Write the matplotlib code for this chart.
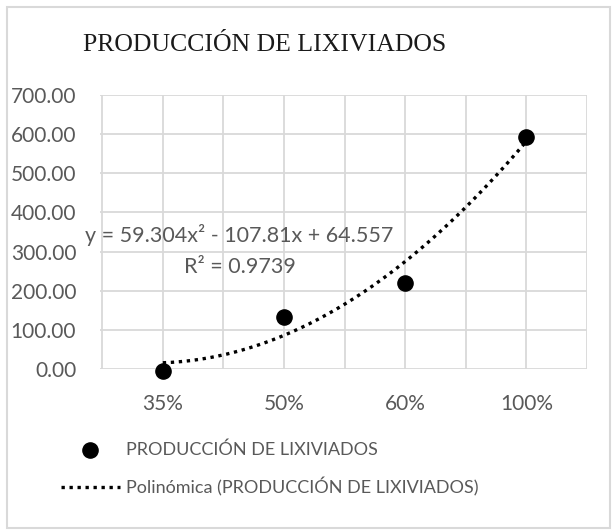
import numpy as np
import matplotlib
matplotlib.use("Agg")
import matplotlib.pyplot as plt
from matplotlib.patches import Rectangle

# data
categories = ["35%", "50%", "60%", "100%"]
produccion = [-4.0, 133.0, 221.0, 593.0]
# Excel trendline coefficients (x = 1..n)
coef = [59.304, -107.81, 64.557]
r2 = 0.9739
yticks = [0, 100, 200, 300, 400, 500, 600, 700]

plt.rcParams['font.family'] = ['Lato', 'DejaVu Sans']
gray = "#595959"

fig = plt.figure(figsize=(6.16, 5.31), dpi=100)
ax = fig.add_axes([0.162, 0.305, 0.791, 0.516])

x = np.arange(1, len(categories) + 1)
xs = np.linspace(1, len(categories), 200)
ys = np.polyval(coef, xs)

ax.plot(xs, ys, color="black", linestyle=(0, (1, 1.4)), linewidth=2.4,
        label="Polinómica (PRODUCCIÓN DE LIXIVIADOS)", zorder=3)
ax.scatter(x, produccion, s=120, color="black", zorder=4, clip_on=False,
           label="PRODUCCIÓN DE LIXIVIADOS")

ax.set_xlim(0.48, 4.5)
ax.set_ylim(0, 700)
ax.set_yticks(yticks)
ax.set_yticklabels([f"{v:.2f}" for v in yticks])
ax.set_xticks(x)
ax.set_xticklabels(categories)
ax.set_xticks(np.arange(0.5, 4.6, 0.5), minor=True)
ax.grid(True, which="both", color="#d9d9d9", linewidth=1.3)
ax.set_axisbelow(True)
for s in ax.spines.values():
    s.set_visible(False)
ax.tick_params(axis="both", which="both", length=0, labelsize=15,
               labelcolor=gray)
ax.tick_params(axis="y", pad=17)
ax.tick_params(axis="x", pad=18)

fig.text(0.43, 0.915, "PRODUCCIÓN DE LIXIVIADOS", ha="center", va="center",
         fontsize=18.5, family="Liberation Serif", color="#1a1a1a")

fig.text(0.138, 0.557, "y = 59.304x² - 107.81x + 64.557", ha="left",
         va="center", fontsize=15.5, color=gray)
fig.text(0.39, 0.497, f"R² = {r2}", ha="center", va="center",
         fontsize=15.5, color=gray)

handles, labels = ax.get_legend_handles_labels()
fig.legend(handles[::-1], labels[::-1], loc="upper left",
           bbox_to_anchor=(0.072, 0.2), frameon=False, fontsize=13,
           labelcolor=gray, handlelength=3.3, handletextpad=0.3,
           labelspacing=1.1, markerscale=1.0)

fig.patches.append(Rectangle((0.011, 0.006), 0.98, 0.981, transform=fig.transFigure,
                             fill=False, edgecolor="#d9d9d9", linewidth=1.5))

fig.savefig("out.png", dpi=100)
